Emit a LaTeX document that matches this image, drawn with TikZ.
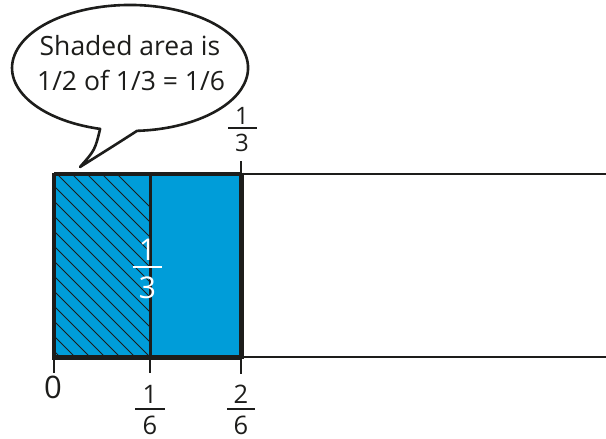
\documentclass[tikz,border=0pt]{standalone}
\usepackage{fontspec}
\setmainfont{Open Sans}
\definecolor{barblue}{RGB}{0,157,217}
\definecolor{ink}{RGB}{29,29,27}
\begin{document}
\begin{tikzpicture}[x=1pt,y=-1pt,
  txt/.style={anchor=base,inner sep=0pt,text=ink,font=\fontsize{26.5}{30}\selectfont},
  fracnum/.style={anchor=base,inner sep=0pt,text=ink,font=\fontsize{25.5}{30}\selectfont},
  fracbar/.style={draw=ink,line width=2pt},
  tick/.style={draw=ink,line width=2pt},
  hatch/.style={draw=ink,line width=0.8pt}]
\useasboundingbox (0,0) rectangle (606,439);
% speech bubble
\draw[ink,fill=white,line width=2.6pt,line join=round]
  (80,167) .. controls (95,150) .. (100.1,128.9)
  arc[start angle=104.7,end angle=446.6,x radius=118,y radius=63]
  .. controls (115,145) .. (80,167) -- cycle;
\node[txt] (l1) at (130,55) {Shaded area is};
\node[txt] (l2) at (131,90) {1/2 of 1/3 = 1/6};
% blue region
\fill[barblue] (54,174) rectangle (241,357);
\begin{scope}
  \clip (54,174) rectangle (150,357);
  \foreach \c in {-57,-72,...,-320}
    \draw[hatch] (\c+174-20,154) -- (\c+357+20,377);
\end{scope}
% white part
\draw[ink,line width=2.6pt] (241,174) -- (606,174);
\draw[ink,line width=2.6pt] (241,357) -- (606,357);
% blue part border
\draw[ink,line width=3.5pt] (54,174) -- (241,174);
\draw[ink,line width=5pt] (52,357) -- (241,357);
\draw[ink,line width=4pt] (54,172.5) -- (54,359);
\draw[ink,line width=3pt] (150,174) -- (150,357);
\draw[ink,line width=5pt] (241,172.5) -- (241,359);
% ticks
\draw[tick] (54,357) -- (54,373);
\draw[tick] (150,357) -- (150,373);
\draw[tick] (241,357) -- (241,374);
\draw[tick] (241,161) -- (241,174);
% labels
\node[fracnum,font=\fontsize{24}{28}\selectfont] (t1) at (242,124) {1};
\draw[fracbar] (228,128.3) -- (257,128.3);
\node[fracnum,font=\fontsize{24}{28}\selectfont] (t3) at (242,151.5) {3};
\node[fracnum] (a1) at (150,403) {1};
\draw[fracbar] (135,409) -- (165,409);
\node[fracnum] (a6) at (150,434.5) {6};
\node[fracnum] (b2) at (241,403) {2};
\draw[fracbar] (227,409) -- (255,409);
\node[fracnum] (b6) at (241,434.5) {6};
\node[anchor=base,inner sep=0pt,text=ink,font=\fontsize{31}{36}\selectfont] (z) at (53,398) {0};
\node[fracnum,text=white,font=\fontsize{30}{34}\selectfont] (w1) at (147.5,260) {1};
\draw[white,line width=2pt] (133,266.5) -- (162,266.5);
\node[fracnum,text=white,font=\fontsize{30}{34}\selectfont] (w3) at (147.5,298) {3};
\end{tikzpicture}
\end{document}
